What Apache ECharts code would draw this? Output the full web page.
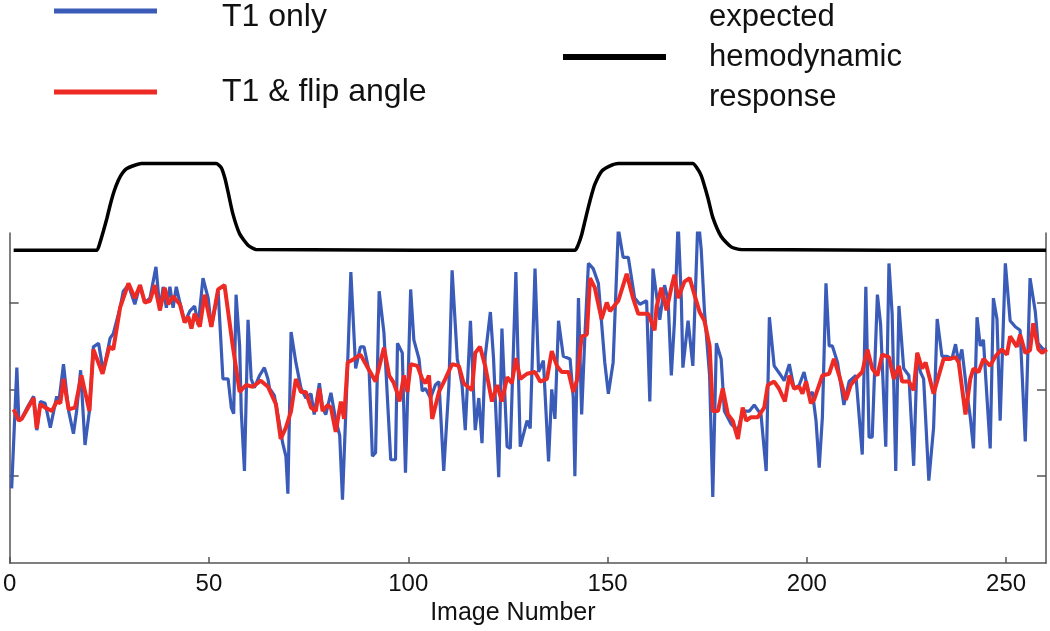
<!DOCTYPE html>
<html>
<head>
<meta charset="utf-8">
<script src="https://cdn.jsdelivr.net/npm/echarts@6/dist/echarts.min.js"></script>
<style>
  html, body { margin: 0; padding: 0; background: #fff; }
  #chart { width: 1050px; height: 631px; }
</style>
</head>
<body>
<div id="chart"></div>
<script>
// image numbers and signal values
const blueX = [0.5, 1.8, 2.3, 3, 4.5, 6, 6.8, 7.7, 8.9, 10.2, 11.8, 12.3, 13.5, 14.8, 16, 16.8, 17.8, 18.9, 20, 21,
  22.3, 23.5, 25.2, 26, 27.7, 28.5, 29.8, 31.4, 32.7, 33.9, 35.2, 36.7, 37.7, 38.5, 39.3, 40.2, 41, 41.8, 42.7, 43.9,
  45.2, 46.4, 47.3, 48.5, 49.8, 50.6, 52.3, 53.5, 54.8, 55.6, 56.2, 56.8, 57.7, 58.1, 58.9, 59.8, 60.6, 61.4, 62.7, 63.9,
  64.8, 65.2, 66.4, 67.7, 68.5, 69.3, 69.8, 70.6, 71.8, 73.1, 74.3, 75.6, 76.4, 77.7, 78.5, 79.3, 80.6, 81.8, 82.8, 83.5,
  84.8, 85.6, 86.8, 88, 88.9, 90.2, 91, 91.8, 92.7, 93.9, 95.6, 96.8, 97.3, 98.5, 99.3, 100.6, 101.4, 102.7, 103.5, 104.3,
  105.6, 106.8, 107.7, 108.9, 110.2, 111, 112.3, 113.5, 114.3, 115.6, 116.8, 117.7, 118.5, 119.3, 120.6, 121.4, 122.7, 123.5, 124.8, 125.6,
  127, 128.1, 129, 129.8, 130.6, 131.8, 132.7, 133.9, 135.2, 136, 136.8, 137.7, 138.9, 140.6, 141.4, 141.8, 142.7, 143.5, 144.3, 145.2,
  146.4, 147.7, 149.3, 150.2, 151.4, 152.7, 153.9, 155.2, 156.8, 158.1, 159.8, 160.6, 161.4, 163.1, 164.3, 165.2, 166, 166.8, 167.7, 168.5,
  168.9, 170.2, 171.4, 172.7, 173.5, 174.3, 175.6, 176.4, 177.3, 178.5, 179.3, 181, 182.7, 183.9, 185.6, 186.8, 188.5, 189.8, 190.6, 191.8,
  193.5, 194.3, 195.6, 196.8, 198.1, 199.3, 200.6, 201.4, 202.3, 203.1, 203.9, 204.8, 205.6, 206.4, 207.7, 209.3, 210.6, 212.3, 213.9, 214.8,
  215.6, 216.4, 217.7, 218.5, 219.8, 220.6, 221.4, 222.3, 223.1, 224.3, 225.6, 226.8, 227.7, 228.5, 229.3, 230.6, 231.8, 232.7, 233.9, 235.2,
  236.4, 237.3, 238.1, 238.9, 240.2, 241, 241.8, 242.7, 243.5, 244.3, 245.2, 246, 246.8, 247.7, 248.5, 249.8, 251, 252.3, 253.5, 254.8,
  256, 257.3, 258, 259.3, 260.2];
const blueY = [0.86, 2.25, 1.64, 1.66, 1.8, 1.92, 1.53, 1.86, 1.84, 1.56, 1.92, 1.84, 2.29, 1.75, 1.49, 1.75, 2.22, 1.36, 1.75, 2.49,
  2.53, 2.2, 2.59, 2.64, 2.94, 3.13, 3.2, 2.98, 3.2, 3.0, 3.05, 3.41, 2.91, 3.18, 2.94, 3.18, 2.94, 3.18, 3.0, 2.77,
  2.9, 2.96, 2.74, 3.28, 3.05, 2.72, 3.13, 2.12, 2.12, 1.79, 1.72, 3.09, 2.5, 1.75, 1.06, 2.8, 2.12, 2.02, 2.16, 2.25,
  2.12, 2.01, 1.93, 1.6, 1.38, 1.23, 0.8, 2.66, 2.31, 2.01, 1.9, 1.95, 1.71, 2.07, 1.79, 1.71, 1.96, 1.65, 1.47, 0.73,
  2.31, 3.35, 2.24, 2.49, 2.49, 2.2, 1.23, 1.27, 3.13, 2.65, 1.19, 1.19, 2.53, 2.42, 1.04, 3.15, 2.57, 2.35, 1.98, 2.01,
  1.9, 2.05, 2.09, 1.06, 2.05, 3.37, 2.35, 2.05, 1.53, 2.79, 1.53, 1.9, 1.38, 2.38, 2.89, 2.35, 0.99, 2.7, 1.34, 1.32,
  3.35, 1.34, 1.5, 1.64, 1.55, 3.39, 2.2, 2.33, 1.17, 2.0, 1.66, 2.79, 2.38, 2.35, 1.9, 1.0, 3.05, 1.71, 2.6, 3.45,
  3.39, 3.22, 2.31, 1.95, 2.31, 3.85, 3.52, 3.52, 3.05, 2.98, 3.02, 1.86, 3.39, 2.8, 3.2, 3.02, 2.16, 2.79, 3.93, 3.05,
  2.25, 2.79, 2.27, 3.99, 3.61, 2.91, 2.16, 0.76, 2.53, 2.35, 1.75, 1.6, 1.53, 1.75, 1.75, 1.82, 1.71, 1.06, 2.83, 2.27,
  2.16, 2.1, 2.29, 2.01, 2.05, 2.2, 1.93, 1.97, 1.64, 1.1, 1.68, 3.22, 2.5, 2.5, 2.31, 1.82, 2.09, 2.16, 1.25, 3.18,
  1.45, 1.45, 3.09, 2.75, 1.34, 3.45, 2.87, 1.06, 2.96, 2.24, 2.16, 1.12, 2.42, 2.2, 2.12, 0.95, 1.56, 2.81, 2.38, 2.38,
  2.35, 2.52, 2.31, 2.46, 1.95, 1.68, 1.32, 2.83, 2.5, 2.57, 1.9, 1.32, 3.05, 2.81, 1.64, 3.45, 2.79, 2.72, 2.68, 1.4,
  3.28, 2.9, 2.53, 2.46, 2.46];

const redX = [1, 2.3, 3, 6, 6.8, 7.7, 8.9, 10.6, 11.8, 12.7, 13.5, 14.8, 16.4, 18, 20, 21, 23.3, 25, 26, 27.7,
  29.8, 31.4, 32.7, 33.9, 35.2, 36.4, 37.7, 38.9, 39.8, 41, 42.7, 43.9, 44.8, 45.6, 46.4, 47.7, 48.9, 50.6, 52.3, 53.9,
  56, 57.7, 59.3, 61, 63, 64.8, 66.8, 68, 69.3, 70.6, 71.8, 73.1, 74.3, 75.6, 76.8, 77.7, 78.5, 79.8, 80.6, 81.8,
  83.1, 83.9, 84.8, 86.4, 88, 90.2, 91.8, 93.9, 95.2, 96.3, 97.3, 97.8, 98.9, 99.8, 100.6, 102.3, 103.5, 104.3, 105.2, 106,
  107.7, 109.3, 111, 112.7, 113.9, 116, 116.8, 118, 119.3, 121, 122.3, 123.5, 124.8, 126, 127, 128.1, 129.8, 131.8, 133.1, 134.8,
  136, 137.3, 138.5, 140.2, 141.4, 142.3, 143.5, 144.8, 145.6, 146.8, 148.5, 149.8, 150.6, 152.7, 154.8, 156.4, 157.7, 160.2, 161.8, 162.3,
  163.5, 164.8, 166, 166.8, 167.7, 169.3, 170.6, 171.8, 173.1, 174.3, 175.6, 176.4, 177.7, 178.9, 180.2, 181.4, 182.7, 183.9, 184.8, 186,
  187.7, 189.3, 190.2, 191.8, 193, 194.5, 195.6, 196.8, 198.1, 198.9, 199.8, 201, 201.8, 203.9, 205.6, 206.8, 208.1, 209.8, 211, 213,
  213.9, 215.2, 216.4, 217.7, 218.9, 220.6, 221.8, 223.1, 223.9, 225.6, 226.8, 227.7, 228.9, 229.8, 231.8, 233.1, 234.3, 236, 237.3, 238.1,
  239.8, 241, 241.8, 243.1, 244.3, 246, 247.3, 248.9, 250.2, 251, 252.7, 253.5, 254.8, 256, 256.8, 258.1, 259, 260.2];
const redY = [1.77, 1.64, 1.66, 1.9, 1.55, 1.83, 1.79, 1.75, 1.86, 1.84, 2.12, 1.77, 1.79, 2.16, 1.75, 2.46, 2.18, 2.49, 2.46, 2.94,
  3.22, 3.05, 3.2, 3.0, 3.02, 3.2, 2.91, 3.17, 2.98, 3.07, 2.98, 2.77, 2.84, 2.7, 2.87, 2.72, 3.09, 2.72, 3.15, 3.2,
  2.49, 1.97, 2.05, 2.03, 2.1, 2.03, 1.83, 1.43, 1.56, 1.75, 2.12, 1.97, 1.97, 1.79, 1.75, 2.01, 1.75, 1.82, 1.79, 1.51,
  1.86, 1.66, 2.31, 2.35, 2.4, 2.22, 2.09, 2.48, 2.16, 2.08, 1.95, 1.86, 2.16, 1.97, 2.29, 2.27, 2.12, 2.07, 2.16, 1.66,
  1.97, 2.12, 2.29, 2.27, 2.07, 1.99, 2.42, 2.49, 2.27, 1.86, 2.05, 1.86, 2.14, 2.07, 2.36, 2.12, 2.18, 2.2, 2.09, 2.12,
  2.44, 2.27, 2.2, 2.2, 1.97, 2.1, 2.61, 2.63, 3.28, 3.17, 2.81, 3.0, 2.9, 3.02, 3.33, 3.05, 2.87, 2.87, 2.68, 2.95,
  3.17, 2.91, 3.17, 3.32, 3.05, 3.24, 3.28, 3.09, 2.89, 2.79, 2.5, 1.75, 1.75, 2.01, 1.71, 1.64, 1.43, 1.79, 1.64, 1.68,
  1.68, 1.79, 2.05, 2.09, 2.01, 1.86, 2.16, 2.01, 2.03, 1.95, 2.09, 1.84, 1.88, 2.16, 2.18, 2.35, 2.16, 1.88, 2.05, 2.16,
  2.2, 2.46, 2.24, 2.16, 2.4, 2.37, 2.12, 2.27, 2.09, 2.09, 1.99, 2.42, 2.24, 2.31, 1.95, 2.16, 2.35, 2.35, 2.37, 2.31,
  1.71, 2.12, 2.24, 2.2, 2.35, 2.27, 2.38, 2.46, 2.4, 2.61, 2.49, 2.63, 2.42, 2.45, 2.76, 2.46, 2.42, 2.46];

// expected hemodynamic response (drawn above the data)
const hrfX = [1, 21.8, 22.6, 23.5, 24.4, 25.2, 26.2, 27.3, 28.3, 29.3, 31.4, 33, 51.8, 53.1, 54, 54.8, 56, 57.7, 59.8, 61.8,
  141.8, 142.6, 143.5, 144.4, 145.2, 146, 146.8, 148.5, 150.5, 152.7, 171.4, 172.4, 173.5, 174.4, 175.2, 176.4, 178.5, 181, 183.5, 260];
const hrfY = [3.6, 3.6, 3.68, 3.82, 3.97, 4.12, 4.28, 4.41, 4.49, 4.54, 4.58, 4.6, 4.6, 4.55, 4.43, 4.27, 4.02, 3.79, 3.66, 3.61,
  3.6, 3.66, 3.78, 3.95, 4.1, 4.24, 4.36, 4.51, 4.57, 4.6, 4.6, 4.55, 4.46, 4.33, 4.2, 3.98, 3.76, 3.64, 3.61, 3.6];

const xTicks = [0, 50, 100, 150, 200, 250];
const yTicks = [1, 2, 3];

const FONT = "Liberation Sans";
const AXIS_COLOR = "#555";

const pairs = (xs, ys) => xs.map((x, i) => [x, ys[i]]);

const yAxisBase = {
  type: "value",
  min: 0,
  max: 3.8,
  interval: 1,
  axisLine: { show: true, lineStyle: { color: AXIS_COLOR, width: 1.5 } },
  axisTick: { show: true, inside: true, length: 9, customValues: yTicks, lineStyle: { color: AXIS_COLOR, width: 1.5 } },
  axisLabel: { show: false },
  splitLine: { show: false },
};

const legendBase = {
  orient: "vertical",
  selectedMode: false,
  padding: 0,
  icon: "rect",
  itemWidth: 103,
  itemHeight: 5,
};

const chart = echarts.init(document.getElementById("chart"));
chart.setOption({
  animation: false,
  backgroundColor: "#fff",
  grid: { left: 6, right: 4, top: 233, bottom: 58, containLabel: false },
  legend: [
    {
      ...legendBase,
      data: ["T1 only"],
      left: 54,
      top: -11,
      formatter: "{a|{name}}",
      textStyle: {
        fontFamily: FONT, fontSize: 32, color: "#111", padding: [0, 0, 0, 60],
        rich: { a: { fontFamily: FONT, fontSize: 32, color: "#111", lineHeight: 34, padding: [12, 0, 0, 0] } },
      },
    },
    {
      ...legendBase,
      data: ["T1 & flip angle"],
      left: 54,
      top: 75,
      textStyle: { fontFamily: FONT, fontSize: 32, color: "#111", lineHeight: 34, padding: [0, 0, 0, 60] },
    },
    {
      ...legendBase,
      data: ["expected hemodynamic response"],
      left: 563,
      top: -3,
      itemHeight: 6,
      formatter: () => "expected\nhemodynamic\nresponse",
      textStyle: { fontFamily: FONT, fontSize: 31, color: "#111", lineHeight: 40, padding: [0, 0, 0, 38] },
    },
  ],
  xAxis: {
    type: "value",
    min: 0,
    max: 260,
    interval: 50,
    name: "Image Number",
    nameLocation: "middle",
    nameGap: 33,
    nameTextStyle: { fontFamily: FONT, fontSize: 25, color: "#111", padding: [0, 30, 0, 0] },
    axisLine: { show: true, onZero: false, lineStyle: { color: AXIS_COLOR, width: 1.5 } },
    axisTick: { show: true, inside: true, length: 6, customValues: xTicks, lineStyle: { color: AXIS_COLOR, width: 1.5 } },
    axisLabel: { fontFamily: FONT, fontSize: 24, color: "#111", margin: 9, customValues: xTicks },
    splitLine: { show: false },
  },
  yAxis: [
    { ...yAxisBase, position: "left" },
    { ...yAxisBase, position: "right" },
  ],
  series: [
    {
      name: "T1 only",
      type: "line",
      data: pairs(blueX, blueY),
      showSymbol: false,
      symbol: "none",
      lineStyle: { color: "#3a5cb8", width: 3.2 },
      itemStyle: { color: "#3a5cb8" },
      z: 2,
    },
    {
      name: "T1 & flip angle",
      type: "line",
      data: pairs(redX, redY),
      showSymbol: false,
      symbol: "none",
      lineStyle: { color: "#ee2a24", width: 4 },
      itemStyle: { color: "#ee2a24" },
      z: 3,
    },
    {
      name: "expected hemodynamic response",
      type: "line",
      data: pairs(hrfX, hrfY),
      showSymbol: false,
      symbol: "none",
      clip: false,
      smooth: 0.2,
      lineStyle: { color: "#000", width: 3.5 },
      itemStyle: { color: "#000" },
      z: 4,
    },
  ],
});
</script>
</body>
</html>
